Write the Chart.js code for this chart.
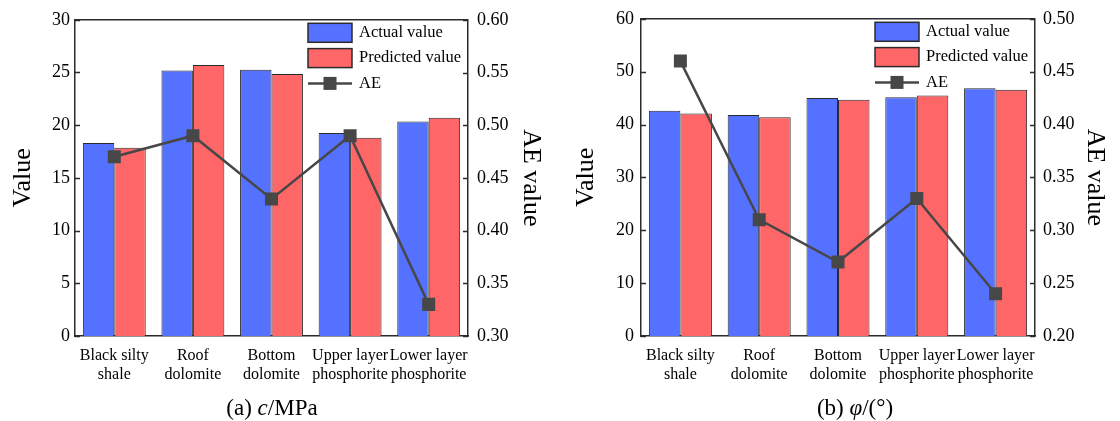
<!DOCTYPE html>
<html>
<head>
<meta charset="utf-8">
<script src="https://cdn.jsdelivr.net/npm/chart.js@4.4.1/dist/chart.umd.min.js"></script>
<style>
  body { margin: 0; background: #fff; width: 1120px; height: 421px; position: relative; overflow: hidden; font-family: "Liberation Serif", serif; }
  .panel { position: absolute; top: 0; width: 560px; height: 421px; }
  .caption { position: absolute; top: 394px; font-size: 23px; line-height: 28px; transform: translateX(-50%); white-space: nowrap; color: #000; }
</style>
</head>
<body>
<div class="panel" style="left:0"><canvas id="chartC" width="560" height="421"></canvas></div>
<div class="panel" style="left:560px"><canvas id="chartPhi" width="560" height="421"></canvas></div>
<div class="caption" style="left:272px">(a) <i>c</i>/MPa</div>
<div class="caption" style="left:855px">(b) <i>φ</i>/(°)</div>
<script>
// rock layers on the x axis (two-line labels)
const layers = [
  ['Black silty', 'shale'],
  ['Roof', 'dolomite'],
  ['Bottom', 'dolomite'],
  ['Upper layer', 'phosphorite'],
  ['Lower layer', 'phosphorite']
];

// cohesion c (MPa)
const cActual    = [18.3, 25.2, 25.25, 19.25, 20.35];
const cPredicted = [17.85, 25.7, 24.85, 18.8, 20.7];
const cAE        = [0.47, 0.49, 0.43, 0.49, 0.33];

// friction angle phi (deg)
const phiActual    = [42.6, 41.8, 45.0, 45.15, 46.85];
const phiPredicted = [42.1, 41.4, 44.7, 45.5, 46.6];
const phiAE        = [0.46, 0.31, 0.27, 0.33, 0.24];

// axis ranges [min, max, step]
const cValueRange   = [0, 30, 5];
const cAERange      = [0.30, 0.60, 0.05];
const phiValueRange = [0, 60, 10];
const phiAERange    = [0.20, 0.50, 0.05];

const BLUE = 'rgb(84,114,255)';
const RED = 'rgb(255,102,104)';
const DARK = '#474747';
const AXIS = '#2b2b2b';

Chart.defaults.font.family = '"Liberation Serif", "Times New Roman", serif';
Chart.defaults.color = '#000';

// box around the plot and short inward ticks on both value axes
const frame = {
  id: 'frame',
  afterDraw(chart) {
    const {ctx, chartArea: a} = chart;
    ctx.save();
    ctx.strokeStyle = AXIS;
    ctx.lineWidth = 1.5;
    ctx.beginPath();
    ctx.moveTo(a.left, a.top);
    ctx.lineTo(a.right, a.top);
    ['y', 'y1'].forEach(id => {
      const s = chart.scales[id];
      s.ticks.forEach(t => {
        const py = Math.round(s.getPixelForValue(t.value)) + 0.5;
        if (id === 'y') { ctx.moveTo(a.left, py); ctx.lineTo(a.left + 5, py); }
        else { ctx.moveTo(a.right, py); ctx.lineTo(a.right - 5, py); }
      });
    });
    ctx.stroke();
    ctx.restore();
  }
};

// legend drawn inside the top right corner of the plot
const insideLegend = {
  id: 'insideLegend',
  afterDraw(chart) {
    const {ctx, chartArea: a} = chart;
    const x0 = a.right - 160;
    ctx.save();
    ctx.font = '16.5px "Liberation Serif"';
    ctx.textBaseline = 'middle';
    chart.data.datasets.forEach((ds, i) => {
      const cy = a.top + 13 + i * 25.3;
      if (ds.type === 'line') {
        ctx.strokeStyle = ds.borderColor;
        ctx.lineWidth = ds.borderWidth;
        ctx.beginPath();
        ctx.moveTo(x0, cy);
        ctx.lineTo(x0 + 44, cy);
        ctx.stroke();
        ctx.fillStyle = ds.pointBackgroundColor;
        ctx.fillRect(x0 + 22 - 6.5, cy - 6.5, 13, 13);
      } else {
        ctx.fillStyle = ds.backgroundColor;
        ctx.fillRect(x0, cy - 9.5, 44, 19);
        ctx.strokeStyle = AXIS;
        ctx.lineWidth = 1.5;
        ctx.strokeRect(x0, cy - 9.5, 44, 19);
      }
      ctx.fillStyle = '#000';
      ctx.fillText(ds.label, x0 + 51, cy);
    });
    ctx.restore();
  }
};

function makeChart(id, actual, predicted, ae, valueRange, aeRange, box) {
  const border = {display: true, color: AXIS, width: 1.5};
  return new Chart(document.getElementById(id), {
    data: {
      labels: layers,
      datasets: [
        {type: 'bar', label: 'Actual value', data: actual, backgroundColor: BLUE,
         borderColor: AXIS, borderWidth: 1, yAxisID: 'y', order: 1},
        {type: 'bar', label: 'Predicted value', data: predicted, backgroundColor: RED,
         borderColor: AXIS, borderWidth: 1, yAxisID: 'y', order: 1},
        {type: 'line', label: 'AE', data: ae, yAxisID: 'y1', order: 0,
         borderColor: DARK, borderWidth: 2.5, pointStyle: 'rect', pointRadius: 9.2,
         pointBackgroundColor: DARK, pointBorderColor: DARK, pointBorderWidth: 0, tension: 0}
      ]
    },
    options: {
      responsive: false,
      animation: false,
      events: [],
      layout: {padding: {top: 18, left: 0, right: 0, bottom: 0}},
      datasets: {bar: {categoryPercentage: 0.8, barPercentage: 1.0}},
      plugins: {legend: {display: false}, tooltip: {enabled: false}},
      scales: {
        x: {
          grid: {display: false, drawTicks: false},
          border: border,
          ticks: {font: {size: 16}, padding: 10, maxRotation: 0, autoSkip: false},
          afterFit(s) { s.height = 421 - 336; }
        },
        y: {
          position: 'left',
          min: valueRange[0], max: valueRange[1],
          grid: {display: false, drawTicks: false},
          border: border,
          ticks: {stepSize: valueRange[2], font: {size: 18}, padding: box.leftPad},
          title: {display: true, text: 'Value', font: {size: 26}, padding: {top: box.leftTitle, bottom: 0}},
          afterFit(s) { s.width = box.yWidth; }
        },
        y1: {
          position: 'right',
          min: aeRange[0], max: aeRange[1],
          grid: {display: false, drawTicks: false},
          border: border,
          ticks: {stepSize: aeRange[2], font: {size: 18}, padding: box.rightPad,
                  callback: v => v.toFixed(2)},
          title: {display: true, text: 'AE value', font: {size: 26}, padding: {top: box.rightTitle, bottom: 0}},
          afterFit(s) { s.width = box.y1Width; }
        }
      }
    },
    plugins: [frame, insideLegend]
  });
}

makeChart('chartC', cActual, cPredicted, cAE, cValueRange, cAERange,
  {yWidth: 75, y1Width: 92, leftPad: 5, rightPad: 9, leftTitle: 8, rightTitle: 14});
makeChart('chartPhi', phiActual, phiPredicted, phiAE, phiValueRange, phiAERange,
  {yWidth: 81, y1Width: 85, leftPad: 7, rightPad: 8, leftTitle: 11, rightTitle: 10});
</script>
</body>
</html>
